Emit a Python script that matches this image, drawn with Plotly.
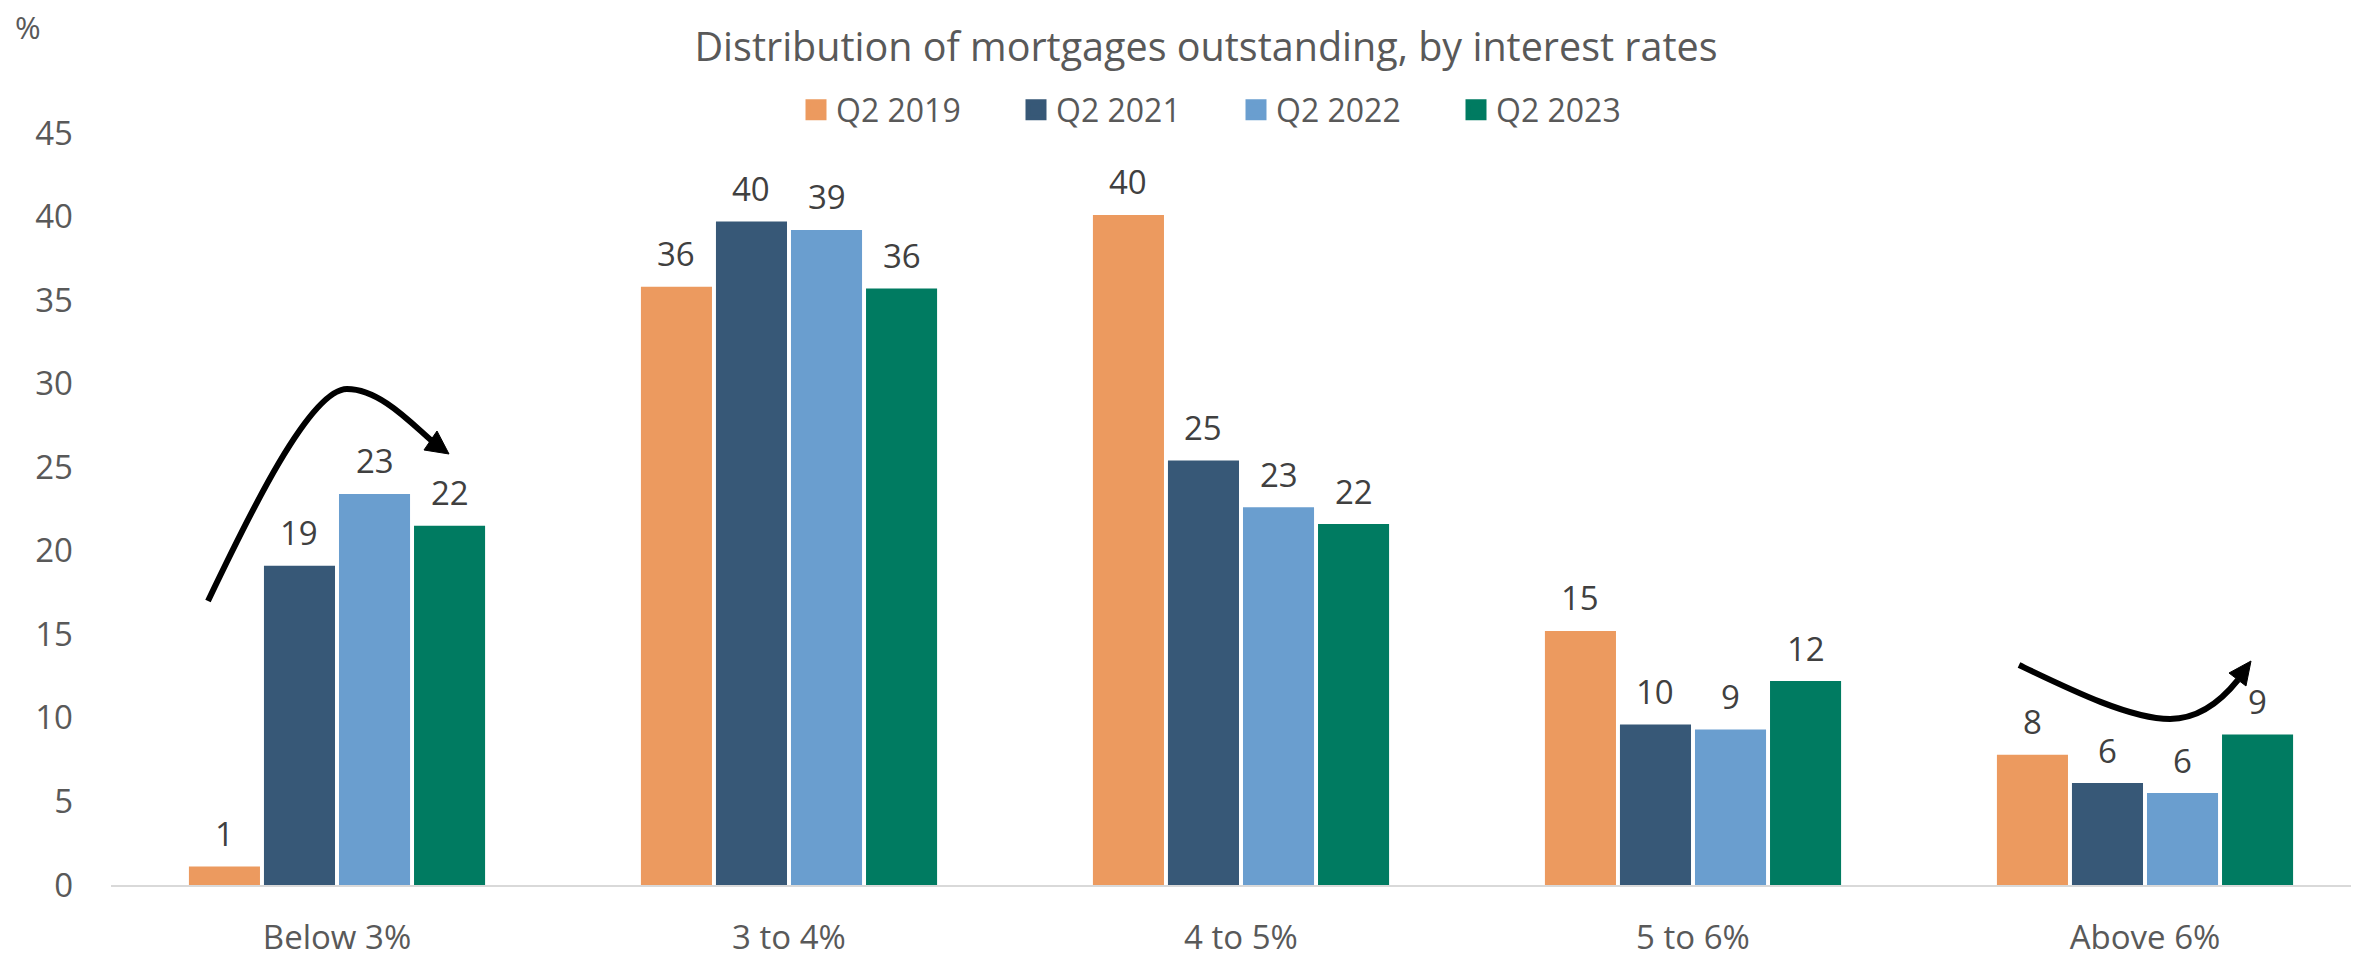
import plotly.graph_objects as go

# ---- data ----
categories = ["Below 3%", "3 to 4%", "4 to 5%", "5 to 6%", "Above 6%"]
series_names = ["Q2 2019", "Q2 2021", "Q2 2022", "Q2 2023"]
q2_2019 = [1.1, 35.8, 40.1, 15.2, 7.8]
q2_2021 = [19.1, 39.7, 25.4, 9.6, 6.1]
q2_2022 = [23.4, 39.2, 22.6, 9.3, 5.5]
q2_2023 = [21.5, 35.7, 21.6, 12.2, 9.0]
y_ticks = [0, 5, 10, 15, 20, 25, 30, 35, 40, 45]

# ---- style ----
colors = ["#EC9A5F", "#375877", "#6A9ECF", "#007B61"]
FONT = "Open Sans, Noto Sans, sans-serif"
GREY = "#595959"
LABEL = "#404040"
PAGE_W, PAGE_H = 2359, 953
PAD = 8                      # default body margin of the html page (top/left)
W, H = PAGE_W - PAD, PAGE_H - PAD
ML, MR, MT = 111 - PAD, 0, 133 - PAD
MB = H - (885 - PAD)
BARGAP = 0.336
GROUPGAP = 0.053
CAT_PX = 452

plot_w = W - ML - MR
plot_h = H - MT - MB


def px_x(X):
    """page x (as in the reference) -> paper x"""
    return (X - PAD - ML) / plot_w


def px_y(Y):
    """page y (as in the reference) -> paper y"""
    return (H - MB - (Y - PAD)) / plot_h


fig = go.Figure()
all_series = [q2_2019, q2_2021, q2_2022, q2_2023]
for name, vals, c in zip(series_names, all_series, colors):
    fig.add_trace(go.Bar(
        name=name, x=categories, y=vals, marker_color=c,
        marker_line_width=0, showlegend=False, legendgroup=name,
        hoverinfo="x+y+name",
    ))
# legend swatches (larger squares than default bar legend symbols)
for name, c in zip(series_names, colors):
    fig.add_trace(go.Scatter(
        x=[None], y=[None], mode="markers", name=name, legendgroup=name,
        marker=dict(symbol="square", size=16, color=c, line=dict(color=c, width=5)),
        showlegend=True, hoverinfo="skip",
    ))

# data labels above bars, positioned through the axis scale
n = len(all_series)
slot = (1 - BARGAP) / n
for i, vals in enumerate(all_series):
    for j, v in enumerate(vals):
        fig.add_annotation(
            x=j + (i - (n - 1) / 2) * slot, y=v, xref="x", yref="y",
            text=f"{v:.0f}", showarrow=False, yanchor="middle", yshift=33,
            font=dict(family=FONT, size=33, color=LABEL),
        )

# "%" unit label
fig.add_annotation(x=px_x(28), y=px_y(27), xref="paper", yref="paper",
                   text="%", showarrow=False, xanchor="center", yanchor="middle",
                   font=dict(family=FONT, size=31, color=GREY))


# curved arrows (decorative annotations)
def path(points_cmds):
    out = []
    for cmd, pts in points_cmds:
        coords = " ".join(f"{px_x(x):.5f},{px_y(y):.5f}" for x, y in pts)
        out.append(f"{cmd} {coords}")
    return " ".join(out)


arrow1 = path([("M", [(208, 601)]),
               ("C", [(249, 515), (310, 389), (347, 389)]),
               ("C", [(380, 389), (412, 424), (432, 441)])])
head1 = path([("M", [(424, 450)]), ("L", [(437, 431)]), ("L", [(449, 454)])]) + " Z"
arrow2 = path([("M", [(2019, 665)]),
               ("C", [(2069, 689), (2130, 719), (2170, 719)]),
               ("C", [(2200, 719), (2222, 700), (2238, 680)])])
head2 = path([("M", [(2229, 673)]), ("L", [(2246, 686)]), ("L", [(2251, 661)])]) + " Z"

for p in (arrow1, arrow2):
    fig.add_shape(type="path", path=p, xref="paper", yref="paper",
                  line=dict(color="black", width=6), fillcolor="rgba(0,0,0,0)")
for p in (head1, head2):
    fig.add_shape(type="path", path=p, xref="paper", yref="paper",
                  line=dict(color="black", width=1), fillcolor="black")

fig.update_layout(
    width=W, height=H,
    margin=dict(l=ML, r=MR, t=MT, b=MB, autoexpand=False),
    paper_bgcolor="white", plot_bgcolor="white",
    barmode="group", bargap=BARGAP, bargroupgap=GROUPGAP,
    font=dict(family=FONT, color=GREY),
    title=dict(text="Distribution of mortgages outstanding, by interest rates",
               x=(1206 - PAD) / W, xref="container", xanchor="center",
               y=1 - (47 - PAD) / H, yref="container", yanchor="middle",
               font=dict(family=FONT, size=39.5, color=GREY)),
    legend=dict(orientation="h", x=px_x(1236), xanchor="center",
                y=px_y(110), yanchor="middle", bgcolor="rgba(0,0,0,0)",
                font=dict(family=FONT, size=32, color=GREY),
                entrywidth=175, traceorder="normal"),
    xaxis=dict(type="category", range=[-0.5, -0.5 + plot_w / CAT_PX],
               showline=True, linecolor="#D9D9D9", linewidth=2,
               showgrid=False, zeroline=False, ticks="", automargin=False,
               ticklabelstandoff=22,
               tickfont=dict(family=FONT, size=33, color=GREY)),
    yaxis=dict(range=[0, 45], tickvals=y_ticks, showgrid=False, zeroline=False,
               showline=False, ticks="", automargin=False, ticklabelstandoff=37,
               tickfont=dict(family=FONT, size=33, color=GREY)),
    showlegend=True,
)

fig.write_html("out.html")
